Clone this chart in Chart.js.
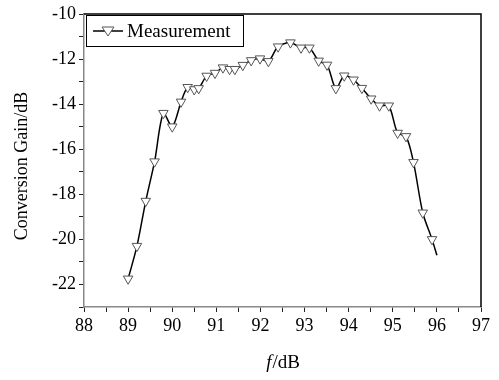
<!DOCTYPE html>
<html lang="en">
<head>
    <meta charset="UTF-8">
    <title>Conversion Gain</title>
    <script src="https://cdn.jsdelivr.net/npm/chart.js@4.4.1/dist/chart.umd.min.js"></script>
    <style>
        html, body { margin: 0; padding: 0; background: #fff; }
        #wrap { width: 499px; height: 380px; position: relative; }
    </style>
</head>
<body>
<div id="wrap"><canvas id="chart-area"></canvas></div>
<script>
    // values
    var freq = [89.0, 89.2, 89.4, 89.6, 89.8, 90.0, 90.2, 90.35, 90.5, 90.6,
                90.78, 90.97, 91.15, 91.3, 91.42, 91.6, 91.79, 91.99, 92.18, 92.4,
                92.68, 92.92, 93.11, 93.32, 93.51, 93.71, 93.9, 94.11, 94.3, 94.51,
                94.7, 94.91, 95.11, 95.3, 95.47, 95.68, 95.89, 96.0];
    var gain = [-21.75, -20.3, -18.3, -16.55, -14.4, -15.0, -13.9, -13.25, -13.35, -13.3,
                -12.75, -12.62, -12.38, -12.45, -12.45, -12.27, -12.06, -11.98, -12.1, -11.45,
                -11.27, -11.5, -11.5, -12.08, -12.26, -13.3, -12.74, -12.92, -13.29, -13.76,
                -14.07, -14.07, -15.28, -15.43, -16.58, -18.82, -20.0, -20.7];
    var xTicks = [88, 89, 90, 91, 92, 93, 94, 95, 96, 97];
    var yTicks = [-10, -12, -14, -16, -18, -20, -22];
    var seriesName = 'Measurement';
    var yTitle = 'Conversion Gain/dB';

    var serif = '"Liberation Serif", "Times New Roman", serif';

    var points = [];
    for (var i = 0; i < freq.length; i++) {
        points.push({x: freq[i], y: gain[i]});
    }

    // frame, legend box and axis titles
    var extras = {
        id: 'extras',
        afterDraw: function (chart) {
            var ctx = chart.ctx;
            var a = chart.chartArea;
            ctx.save();
            ctx.strokeStyle = '#000';
            ctx.lineWidth = 1.5;
            ctx.beginPath();
            ctx.moveTo(a.left, a.top);
            ctx.lineTo(a.right, a.top);
            ctx.lineTo(a.right, a.bottom);
            ctx.stroke();

            // legend
            var lx = a.left + 2, ly = a.top + 1, lw = 157, lh = 31;
            ctx.fillStyle = '#fff';
            ctx.fillRect(lx, ly, lw, lh);
            ctx.lineWidth = 1;
            ctx.strokeRect(lx + 0.5, ly + 0.5, lw, lh);
            var cy = ly + lh / 2 + 0.5;
            ctx.lineWidth = 1.5;
            ctx.beginPath();
            ctx.moveTo(lx + 7, cy);
            ctx.lineTo(lx + 37, cy);
            ctx.stroke();
            ctx.fillStyle = '#fff';
            ctx.strokeStyle = '#555';
            ctx.lineWidth = 1;
            ctx.beginPath();
            ctx.moveTo(lx + 16, cy - 4);
            ctx.lineTo(lx + 28, cy - 4);
            ctx.lineTo(lx + 22, cy + 5);
            ctx.closePath();
            ctx.fill();
            ctx.stroke();
            ctx.fillStyle = '#000';
            ctx.font = '19px ' + serif;
            ctx.textBaseline = 'middle';
            ctx.textAlign = 'left';
            ctx.fillText(seriesName, lx + 41, cy + 1);

            // x title with italic f
            var ty = 363;
            ctx.font = 'italic 19px ' + serif;
            var w1 = ctx.measureText('f').width;
            ctx.font = '19px ' + serif;
            var w2 = ctx.measureText('/dB').width;
            var sx = (a.left + a.right) / 2 - (w1 + w2) / 2;
            ctx.font = 'italic 19px ' + serif;
            ctx.fillText('f', sx, ty);
            ctx.font = '19px ' + serif;
            ctx.fillText('/dB', sx + w1 + 1, ty);

            // y title
            ctx.translate(22, 166);
            ctx.rotate(-Math.PI / 2);
            ctx.textAlign = 'center';
            ctx.font = '18px ' + serif;
            ctx.fillText(yTitle, 0, 0);
            ctx.restore();
        }
    };

    var config = {
        type: 'scatter',
        data: {
            datasets: [{
                label: seriesName,
                data: points,
                showLine: true,
                borderColor: '#000',
                borderWidth: 1.5,
                tension: 0.3,
                pointStyle: 'triangle',
                rotation: 180,
                pointRadius: function (c) { return c.dataIndex === freq.length - 1 ? 0 : 5.5; },
                pointBackgroundColor: '#fff',
                pointBorderColor: '#555',
                pointBorderWidth: 1
            }]
        },
        options: {
            responsive: true,
            maintainAspectRatio: false,
            animation: false,
            layout: { padding: { left: 0, right: 18, top: 14, bottom: 0 } },
            plugins: {
                legend: { display: false },
                tooltip: { enabled: false }
            },
            scales: {
                x: {
                    type: 'linear',
                    min: xTicks[0],
                    max: xTicks[xTicks.length - 1],
                    afterFit: function (s) { s.height = 73; },
                    afterBuildTicks: function (s) {
                        var t = [];
                        for (var v = xTicks[0]; v <= xTicks[xTicks.length - 1] + 0.01; v += 0.5) t.push({value: v});
                        s.ticks = t;
                    },
                    border: { color: '#888', width: 1.5 },
                    grid: {
                        drawOnChartArea: false,
                        tickLength: 5,
                        tickColor: '#222',
                        tickWidth: 1
                    },
                    ticks: {
                        color: '#000',
                        font: { family: serif, size: 18 },
                        padding: 3,
                        autoSkip: false,
                        maxRotation: 0,
                        callback: function (v) { return xTicks.indexOf(v) >= 0 ? String(v) : ''; }
                    }
                },
                y: {
                    min: -23,
                    max: yTicks[0],
                    afterFit: function (s) { s.width = 84; },
                    afterBuildTicks: function (s) {
                        var t = [];
                        for (var v = -23; v <= yTicks[0]; v += 1) t.push({value: v});
                        s.ticks = t;
                    },
                    border: { color: '#888', width: 1.5 },
                    grid: {
                        drawOnChartArea: false,
                        tickLength: 5,
                        tickColor: '#222',
                        tickWidth: 1
                    },
                    ticks: {
                        color: '#000',
                        font: { family: serif, size: 18 },
                        padding: 3,
                        autoSkip: false,
                        callback: function (v) { return yTicks.indexOf(v) >= 0 ? String(v) : ''; }
                    }
                }
            }
        },
        plugins: [extras]
    };

    var ctx = document.getElementById('chart-area').getContext('2d');
    window.myChart = new Chart(ctx, config);
</script>
</body>
</html>
